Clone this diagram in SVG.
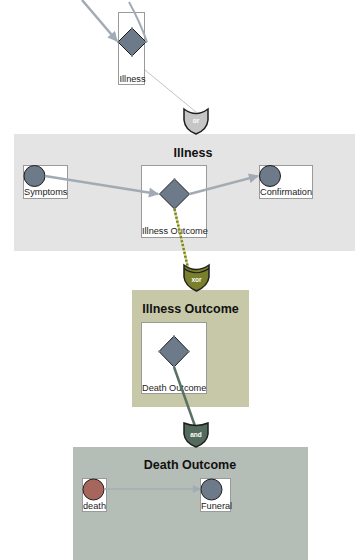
<svg xmlns="http://www.w3.org/2000/svg" width="355" height="560" viewBox="0 0 355 560">
<style>
.box{fill:#fff;stroke:#9a9a9a;stroke-width:1}
.ev{fill:#6c7a89;stroke:#1e1e1e;stroke-width:1}
.gw{fill:#6c7a89;stroke:#1e1e1e;stroke-width:1}
.lbl{font-family:"Liberation Sans",Arial,sans-serif;font-size:9.2px;fill:#222}
.ttl{font-family:"Liberation Sans",Arial,sans-serif;font-size:12.5px;font-weight:bold;fill:#111;text-anchor:middle}
.op{font-family:"Liberation Sans",Arial,sans-serif;font-size:6.5px;font-weight:bold;fill:#fff;text-anchor:middle}
.flow{fill:none;stroke:#a2abb4;stroke-width:2.5}
.dot{fill:#8a8a8a}
</style>
<defs>
<marker id="ah" viewBox="0 0 10 10" refX="9" refY="5" markerWidth="4.4" markerHeight="4" orient="auto" markerUnits="strokeWidth">
<path d="M0,0 L10,5 L0,10 Z" fill="#a2abb4"/>
</marker>
</defs>

<g id="group-illness">
<rect x="14" y="134" width="345" height="117" fill="#e4e4e4"/>
<text class="ttl" x="193" y="157">Illness</text>
</g>
<g id="group-illness-outcome">
<rect x="132" y="290" width="117" height="117" fill="#c6c8a8"/>
<text class="ttl" x="190.5" y="313">Illness Outcome</text>
</g>
<g id="group-death-outcome">
<rect x="73" y="447" width="235" height="113" fill="#b5bdb7"/>
<text class="ttl" x="190" y="469">Death Outcome</text>
</g>

<g id="node-illness">
<rect class="box" x="118.5" y="12.5" width="26" height="72"/>
<path class="gw" d="M132,28 L146,42 L132,56 L118,42 Z"/>
<circle class="dot" cx="132" cy="28" r="1"/><circle class="dot" cx="146" cy="42" r="1"/><circle class="dot" cx="132" cy="56" r="1"/><circle class="dot" cx="118" cy="42" r="1"/>
<text class="lbl" x="119.5" y="82">Illness</text>
</g>

<g id="node-symptoms">
<rect class="box" x="23.5" y="165.5" width="44" height="33"/>
<circle class="ev" cx="34.5" cy="176" r="10.5"/>
<text class="lbl" x="24" y="195">Symptoms</text>
</g>

<g id="node-illness-outcome">
<rect class="box" x="141.5" y="165.5" width="65" height="72"/>
<path class="gw" d="M174.5,179 L189.5,194 L174.5,209 L159.5,194 Z"/>
<circle class="dot" cx="174.5" cy="179" r="1"/><circle class="dot" cx="189.5" cy="194" r="1"/><circle class="dot" cx="174.5" cy="209" r="1"/><circle class="dot" cx="159.5" cy="194" r="1"/>
<text class="lbl" x="142" y="234">Illness Outcome</text>
</g>

<g id="node-confirmation">
<rect class="box" x="259.5" y="165.5" width="53" height="33"/>
<circle class="ev" cx="270" cy="176" r="10.5"/>
<text class="lbl" x="260" y="195">Confirmation</text>
</g>

<g id="node-death-outcome">
<rect class="box" x="141.5" y="322.5" width="65" height="71"/>
<path class="gw" d="M174,336 L189,351.5 L174,367 L159,351.5 Z"/>
<circle class="dot" cx="174" cy="336" r="1"/><circle class="dot" cx="189" cy="351.5" r="1"/><circle class="dot" cx="174" cy="367" r="1"/><circle class="dot" cx="159" cy="351.5" r="1"/>
<text class="lbl" x="142" y="391">Death Outcome</text>
</g>

<g id="node-death">
<rect class="box" x="82.5" y="478.5" width="24" height="33"/>
<circle cx="93.5" cy="489.5" r="10.5" fill="#a6665c" stroke="#1e1e1e" stroke-width="1"/>
<text class="lbl" x="83" y="509">death</text>
</g>

<g id="node-funeral">
<rect class="box" x="200.5" y="478.5" width="30" height="33"/>
<circle class="ev" cx="211.5" cy="489.5" r="10.5"/>
<text class="lbl" x="201" y="509">Funeral</text>
</g>

<g id="connectors">
<line class="flow" x1="82" y1="0" x2="117" y2="41" marker-end="url(#ah)"/>
<path d="M129,2 Q140,22 147,42" fill="none" stroke="#a2abb4" stroke-width="2"/>
<line x1="145" y1="70" x2="196" y2="112" stroke="#c4c4c4" stroke-width="1"/>
<line class="flow" x1="45" y1="176" x2="158" y2="194" marker-end="url(#ah)"/>
<line class="flow" x1="189.5" y1="194" x2="258" y2="176" marker-end="url(#ah)"/>
<line x1="174.5" y1="209" x2="188" y2="268" stroke="#d6d88a" stroke-width="2.5"/>
<line x1="174.5" y1="209" x2="188" y2="268" stroke="#7b8030" stroke-width="2.5" stroke-dasharray="2,2"/>
<line x1="174" y1="367" x2="195" y2="426" stroke="#5a7264" stroke-width="2.5"/>
<line x1="104" y1="489" x2="200" y2="489" stroke="#a8b0b8" stroke-width="2" marker-end="url(#ah)"/>
</g>

<g id="op-or">
<path d="M184,109 Q196,118 208,109 L208,120 Q207,130 196,134 Q185,130 184,120 Z" fill="#c6c6c6" stroke="#1e1e1e" stroke-width="1.5"/>
<text class="op" x="196" y="123">or</text>
</g>

<g id="op-xor">
<path d="M184,265 Q196,274 209,265 L209,277 Q208,286 196.5,291 Q185,286 184,277 Z" fill="#7a7f2c" stroke="#1e1e1e" stroke-width="1.5"/>
<path d="M184,268.5 Q196,277 209,268.5" fill="none" stroke="#1e1e1e" stroke-width="1.2"/>
<text class="op" x="196.5" y="282">xor</text>
</g>

<g id="op-and">
<path d="M184,423 Q196,428 208,423 L208,434 Q207,443 196,447 Q185,443 184,434 Z" fill="#536b5d" stroke="#1e1e1e" stroke-width="1.5"/>
<text class="op" x="196" y="437">and</text>
</g>
</svg>
